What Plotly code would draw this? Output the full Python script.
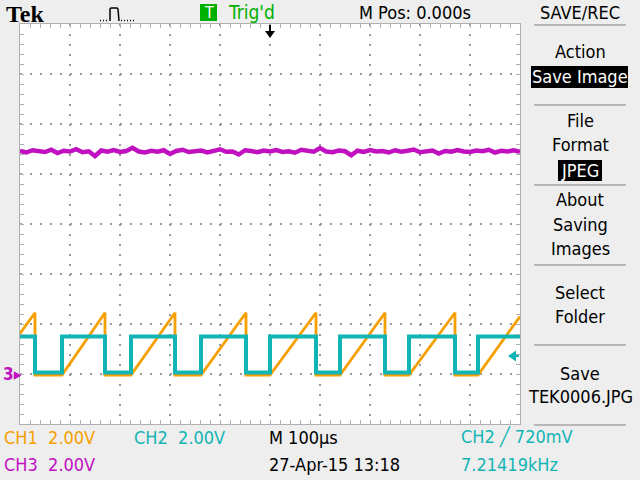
import numpy as np
import plotly.graph_objects as go

# ---- data (time in microseconds, voltage in volts) ----
t_range = [-500, 500]          # 10 div x 100 us
v_range = [-2, 14]             # 8 div x 2 V, ground 1 div above bottom

ch2_rise = [-416, -278, -138, 0, 140, 278, 416]
ch2_fall = [-470, -330, -190, -48, 92, 230, 370]
ch2_high = 1.50
ch2_low = 0.06

ch1_start = 1.62
ch1_peak = 2.45
ch1_low = -0.04
ch1_end = 2.30

ch3_v = [8.92, 8.86, 8.95, 8.90, 8.88, 8.97, 8.84, 8.93, 8.90, 8.99, 8.87, 8.91,
         8.72, 8.94, 8.89, 8.96, 8.88, 8.92, 9.05, 8.90, 8.86, 8.93, 8.89, 8.95,
         8.80, 8.92, 8.97, 8.88, 8.91, 8.94, 8.86, 8.93, 8.99, 8.89, 8.90, 8.78,
         8.95, 8.92, 8.87, 8.94, 8.90, 8.96, 8.88, 8.91, 8.85, 8.97, 8.92, 8.89,
         9.04, 8.90, 8.87, 8.94, 8.91, 8.75, 8.93, 8.88, 8.96, 8.90, 8.92, 8.86,
         8.95, 8.89, 8.93, 8.98, 8.87, 8.91, 8.94, 8.82, 8.92, 8.89, 8.96, 8.90,
         8.88, 8.94, 8.91, 8.97, 8.86, 8.93, 8.90, 8.95, 8.89]

trig_level = 0.72

C_ORANGE = "#f5a000"
C_CYAN = "#12b5b5"
C_MAG = "#c010c0"
BG = "#eeeeee"
GRID = "#9a9a9a"

# ---- build polylines from the edge lists ----
ch2_t, ch2_y = [t_range[0]], [ch2_high]
for f, r in zip(ch2_fall, ch2_rise):
    ch2_t += [f, f, r, r]
    ch2_y += [ch2_high, ch2_low, ch2_low, ch2_high]
ch2_t.append(t_range[1]); ch2_y.append(ch2_high)

ch1_t, ch1_y = [t_range[0]], [ch1_start]
for f, r in zip(ch2_fall, ch2_rise):
    ch1_t += [f, f, r]
    ch1_y += [ch1_peak, ch1_low, ch1_low]
ch1_t.append(t_range[1]); ch1_y.append(ch1_end)

ch3_t = np.linspace(t_range[0], t_range[1], len(ch3_v))

fig = go.Figure()
fig.add_trace(go.Scatter(x=ch3_t, y=ch3_v, mode="lines", line=dict(color=C_MAG, width=4.5)))
fig.add_trace(go.Scatter(x=ch1_t, y=ch1_y, mode="lines", line=dict(color=C_ORANGE, width=2.8)))
fig.add_trace(go.Scatter(x=ch2_t, y=ch2_y, mode="lines", line=dict(color=C_CYAN, width=4)))

L, R, T, B = 20, 120, 24, 56
W, H = 640, 480
PW, PH = W - L - R, H - T - B


def px(x):
    return (x - L) / PW


def py(y):
    return (H - B - y) / PH


FONT = "Liberation Sans Narrow, DejaVu Sans Condensed, Liberation Sans, sans-serif"
ann = []


def text(s, x, y, color="black", size=17, anchor="center", family=FONT, **kw):
    ann.append(dict(text=s, x=px(x), y=py(y), xref="paper", yref="paper", showarrow=False,
                    xanchor=anchor, yanchor="middle", font=dict(color=color, size=size, family=family), **kw))


shapes = []


def rect(x0, y0, x1, y1, color):
    shapes.append(dict(type="rect", xref="paper", yref="paper", x0=px(x0), x1=px(x1), y0=py(y0), y1=py(y1),
                       fillcolor=color, line=dict(width=0)))


def hline(x0, x1, y, color="#b8b8b8", width=2):
    shapes.append(dict(type="line", xref="paper", yref="paper", x0=px(x0), x1=px(x1), y0=py(y), y1=py(y),
                       line=dict(color=color, width=width)))


# top bar
text("<b>Tek</b>", 25, 14, size=24, family="Liberation Serif, DejaVu Serif, serif")
rect(200, 4, 217, 21, "#00b000")
text("T", 208.5, 12.5, color="white", size=16)
text("Trig'd", 226, 12.5, color="#00b000", size=19, anchor="left")
text("M Pos: 0.000s", 415, 12.5, size=18)
text("SAVE/REC", 580, 12.5, size=18)
hline(534, 626, 25)

# pulse icon
pts = [(110, 21), (110, 9), (111, 8), (117, 8), (118, 9), (119, 21)]
path = "M " + " L ".join(f"{px(a)},{py(b)}" for a, b in pts)
shapes.append(dict(type="path", xref="paper", yref="paper", path=path, line=dict(color="black", width=1.5)))
for a0, a1 in [(100, 109), (121, 136)]:
    shapes.append(dict(type="line", xref="paper", yref="paper", x0=px(a0), x1=px(a1), y0=py(20.5), y1=py(20.5),
                       line=dict(color="black", width=1.5, dash="1px,2px")))

# side menu
text("Action", 580, 52, size=18)
rect(531, 66, 628, 88, "black")
text("Save Image", 580, 77, color="white", size=18)
hline(534, 626, 105)
text("File", 580, 120, size=18)
text("Format", 580, 144, size=18)
rect(558, 160, 602, 181, "black")
text("JPEG", 580, 170.5, color="white", size=18)
hline(534, 626, 185)
text("About", 580, 200, size=18)
text("Saving", 580, 224, size=18)
text("Images", 580, 248, size=18)
hline(534, 626, 265)
text("Select", 580, 292, size=18)
text("Folder", 580, 316, size=18)
hline(534, 626, 345)
text("Save", 580, 373, size=18)
text("TEK0006.JPG", 580, 396, size=18)
hline(534, 626, 425)

# bottom readouts
text("CH1  2.00V", 2, 437, color=C_ORANGE, size=18, anchor="left")
text("CH2  2.00V", 132, 437, color=C_CYAN, size=18, anchor="left")
text("M 100µs", 267, 437, size=18, anchor="left")
text("CH2 ╱ 720mV", 459, 437, color=C_CYAN, size=18, anchor="left")
text("CH3  2.00V", 2, 464, color=C_MAG, size=18, anchor="left")
text("27-Apr-15 13:18", 267, 464, size=18, anchor="left")
text("7.21419kHz", 459, 464, color=C_CYAN, size=18, anchor="left")

# ground marker (channel 3) at 0 V
ann.append(dict(text="<b>3</b>▸", x=px(1), y=0, xref="paper", yref="y", showarrow=False, xanchor="left",
                yanchor="middle", font=dict(color=C_MAG, size=17, family=FONT)))

# trigger position marker at t=0
shapes.append(dict(type="line", xref="x", yref="paper", x0=0, x1=0, y0=py(25), y1=py(32),
                   line=dict(color="black", width=2)))
shapes.append(dict(type="path", xref="x", yref="paper",
                   path=f"M -10,{py(31)} L 10,{py(31)} L 0,{py(38)} Z", fillcolor="black", line=dict(width=0)))

# trigger level marker
shapes.append(dict(type="path", xref="paper", yref="y",
                   path=f"M {px(508)},{trig_level} L {px(516)},{trig_level + 0.22} L {px(516)},{trig_level - 0.22} Z",
                   fillcolor=C_CYAN, line=dict(width=0)))
shapes.append(dict(type="line", xref="paper", yref="y", x0=px(514), x1=px(519), y0=trig_level, y1=trig_level,
                   line=dict(color=C_CYAN, width=2)))

axis_common = dict(showline=True, linecolor="#b0b0b0", linewidth=1, mirror="allticks", ticks="inside",
                   ticklen=4, tickcolor="#b0b0b0", showticklabels=False, zeroline=False, showgrid=True,
                   gridcolor=GRID, gridwidth=2, griddash="2px,8px", fixedrange=True)

fig.update_layout(
    width=W, height=H, margin=dict(l=L, r=R, t=T, b=B, pad=0),
    paper_bgcolor=BG, plot_bgcolor="white", showlegend=False,
    xaxis=dict(range=t_range, dtick=100, tick0=0,
               minor=dict(dtick=20, ticks="inside", ticklen=4, tickcolor="#b0b0b0", showgrid=False),
               **axis_common),
    yaxis=dict(range=v_range, dtick=2, tick0=0,
               minor=dict(dtick=0.4, ticks="inside", ticklen=4, tickcolor="#b0b0b0", showgrid=False),
               **axis_common),
    annotations=ann, shapes=shapes,
)

fig.write_html("out.html", config={"displayModeBar": False},
               post_script="document.body.style.margin='0';document.body.style.overflow='hidden';")
